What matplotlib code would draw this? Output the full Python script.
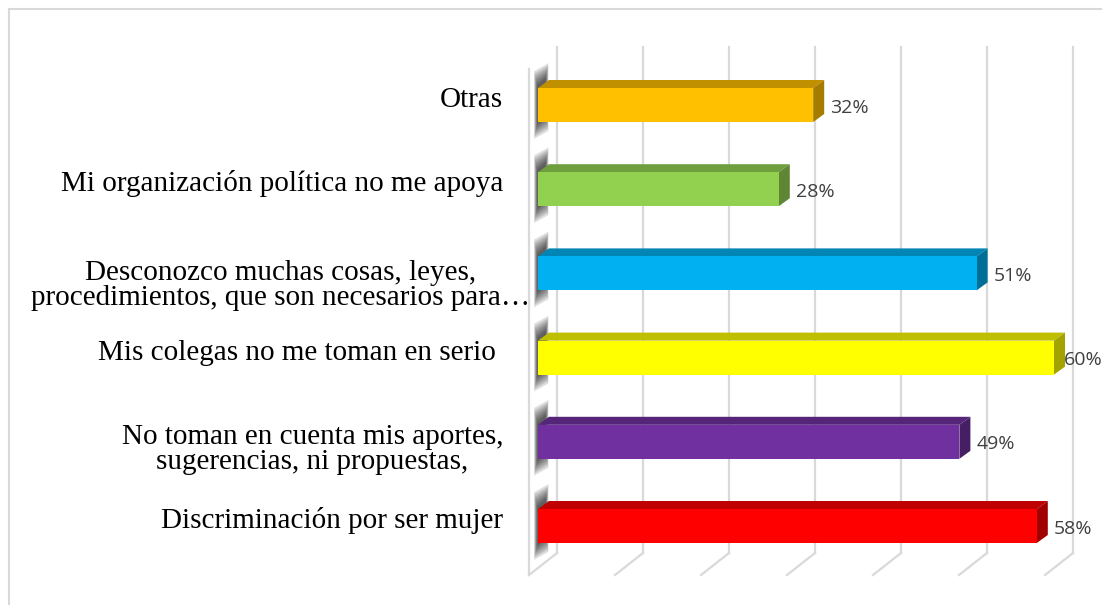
import matplotlib
matplotlib.use("Agg")
import matplotlib.pyplot as plt
from matplotlib.patches import Polygon, Rectangle

# data (bottom to top)
categories = ["Discriminación por ser mujer",
              "No toman en cuenta mis aportes,\nsugerencias, ni propuestas,",
              "Mis colegas no me toman en serio ",
              "Desconozco muchas cosas, leyes,\nprocedimientos, que son necesarios para…",
              "Mi organización política no me apoya",
              "Otras"]
values = [58, 49, 60, 51, 28, 32]
front_colors = ["#FF0000", "#7030A0", "#FFFF00", "#00B0F0", "#92D050", "#FFC000"]
top_colors = ["#C00000", "#552579", "#BFBF00", "#0085B5", "#6F9E3D", "#C09000"]
side_colors = ["#A00000", "#461E64", "#A3A300", "#006F97", "#5E8634", "#A57C00"]
ticks = [0, 10, 20, 30, 40, 50, 60]

# pixel scale of the reference (px per % and px per category)
PXX = 8.6
PXY = 84.2
BH = 34 / PXY          # bar height
DX, DY = 11 / PXX, 8 / PXY   # bar depth
WX = 19 / PXX          # back wall shift
FX = -9 / PXX          # front floor shift
wall_top = (526 - 47) / PXY
floor_back = (526 - 553) / PXY
floor_front = (526 - 575) / PXY
left_top = (526 - 69) / PXY
grid_col = "#D9D9D9"
LINE_GAP = 25 / PXY

fig = plt.figure(figsize=(11.02, 6.05), dpi=100)
ax = fig.add_axes([0, 0, 1, 1])
ax.set_xlim(-538 / PXX, (1102 - 538) / PXX)
ax.set_ylim(-(605 - 526) / PXY, 526 / PXY)
ax.axis("off")

# chart border (only top/left visible)
fig.patches.append(Rectangle((8.5 / 1102, -0.2), 1.5, 1.2 - 8.5 / 605,
                             transform=fig.transFigure, fill=False,
                             edgecolor=grid_col, lw=1.5))

# walls and grid
for t in ticks:
    ax.plot([t + WX, t + WX], [floor_back, wall_top], color=grid_col, lw=1.6, zorder=1)
    ax.plot([t + WX, t + FX], [floor_back, floor_front], color=grid_col, lw=1.6, zorder=1)
ax.plot([FX, FX], [floor_front, left_top], color=grid_col, lw=1.6, zorder=1)

ypos = list(range(len(categories)))

# soft shadows on the left wall
for y in ypos:
    for k in range(7):
        m = 0.20 - k * 0.028
        x0 = -0.45 + k * 0.06
        x1 = DX * 0.95 - k * 0.05
        pts = [(x0, y - BH / 2 - m), (x1, y - BH / 2 - m + DY),
               (x1, y + BH / 2 + m + DY), (x0, y + BH / 2 + m)]
        ax.add_patch(Polygon(pts, closed=True, facecolor="#000000", alpha=0.13,
                             edgecolor="none", zorder=2))

ax.barh(ypos, values, height=BH, color=front_colors, zorder=4)
for y, v, tc, sc in zip(ypos, values, top_colors, side_colors):
    top = [(0, y + BH / 2), (v, y + BH / 2), (v + DX, y + BH / 2 + DY), (DX, y + BH / 2 + DY)]
    side = [(v, y - BH / 2), (v + DX, y - BH / 2 + DY), (v + DX, y + BH / 2 + DY), (v, y + BH / 2)]
    ax.add_patch(Polygon(top, closed=True, facecolor=tc, edgecolor="none", zorder=3))
    ax.add_patch(Polygon(side, closed=True, facecolor=sc, edgecolor="none", zorder=3))
    ax.text(min(v + 17 / PXX, 61.2), y - 0.03, f"{v}%", color="#404040",
            fontsize=14, family="Open Sans", ha="left", va="center", zorder=5)

for y, c in zip(ypos, categories):
    nl = c.count("\n")
    lx, ly = -35 / PXX, y - 2 / PXY
    if c.endswith("…"):
        # truncated label overflows toward the axis
        lx, ly = lx + 27 / PXX, ly - 5 / PXY
    ax.text(lx, ly - nl * LINE_GAP, c, fontsize=21, family="Liberation Serif",
            ha="right", va="baseline", multialignment="center", linespacing=0.95,
            color="black")

fig.savefig("out.png", dpi=100)
